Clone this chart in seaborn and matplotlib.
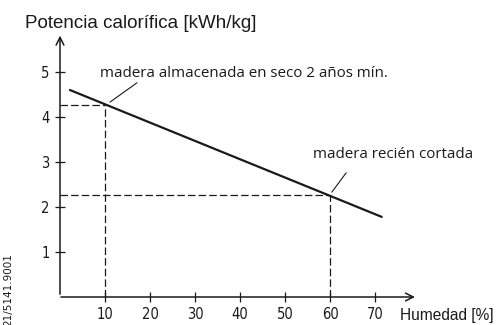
import matplotlib
matplotlib.use("Agg")
import matplotlib.pyplot as plt
import seaborn as sns
import pandas as pd

# Data
humedad = [2.2, 71.5]
potencia = [4.6, 1.78]
ref_humedad = [10, 60]
ref_potencia = [4.27, 2.27]
xticks = [10, 20, 30, 40, 50, 60, 70]
yticks = [1, 2, 3, 4, 5]
title_text = "Potencia calorífica [kWh/kg]"
xlabel_text = "Humedad [%]"
label_seco = "madera almacenada en seco 2 años mín."
label_cortada = "madera recién cortada"
code_text = "21/5141.9001"

sns.set_theme(style="white")
plt.rcParams['font.family'] = ['Liberation Sans', 'DejaVu Sans']

ink = "#1a1a1a"
fig = plt.figure(figsize=(4.98, 3.25), dpi=100)
ax = fig.add_axes([60/498, 28/325, 360/498, 270/325])
ax.set_xlim(0, 80)
ax.set_ylim(0, 6)

df = pd.DataFrame({"h": humedad, "p": potencia})
sns.lineplot(data=df, x="h", y="p", ax=ax, color=ink, linewidth=1.6)

dash = (0, (6, 2.5))
for rx, ry in zip(ref_humedad, ref_potencia):
    ax.plot([rx, rx], [0, ry], color=ink, lw=0.9, linestyle=dash)
    ax.plot([0, rx], [ry, ry], color=ink, lw=0.9, linestyle=dash)

for s in ax.spines.values():
    s.set_visible(False)

# axes with arrows
ax.annotate("", xy=(79.5, 0), xytext=(-0.4, 0),
            arrowprops=dict(arrowstyle="->", color=ink, lw=1.1,
                            mutation_scale=14), annotation_clip=False)
ax.annotate("", xy=(0, 5.87), xytext=(0, 0),
            arrowprops=dict(arrowstyle="->", color=ink, lw=1.1,
                            mutation_scale=14), annotation_clip=False)

ax.set_xticks(xticks)
ax.set_yticks(yticks)
ax.set_xticklabels([str(t) for t in xticks], fontstretch="condensed",
                   family=["Liberation Sans Narrow", "DejaVu Sans"])
ax.set_yticklabels([str(t) for t in yticks], fontstretch="condensed",
                   family=["Liberation Sans Narrow", "DejaVu Sans"])
ax.tick_params(axis="both", direction="inout", length=7, width=0.9,
               color=ink, labelcolor=ink, labelsize=10.5, pad=4,
               bottom=True, left=True)
ax.set_xlabel("")
ax.set_ylabel("")

# leader lines
ax.plot([11.1, 17.1], [4.33, 4.76], color=ink, lw=0.8)
ax.plot([60.4, 63.6], [2.33, 2.76], color=ink, lw=0.8)

ax.text(8.9, 4.89, label_seco, fontsize=10.9, color=ink, va="baseline",
        family=["Open Sans", "DejaVu Sans"])
ax.text(56.2, 3.09, label_cortada, fontsize=10.9, color=ink, va="baseline",
        family=["Open Sans", "DejaVu Sans"])
ax.text(75.6, -0.51, xlabel_text, fontsize=11.2, color=ink, va="baseline",
        clip_on=False)
ax.text(-7.8, 5.98, title_text, fontsize=13.5, color=ink, va="baseline",
        clip_on=False)
fig.text(8/498, 1 - 290/325, code_text, rotation=90, fontsize=7.5,
         color=ink, ha="center", va="center",
         family=["Liberation Sans Narrow", "DejaVu Sans"])

fig.savefig("out.png", dpi=100, facecolor="white")
